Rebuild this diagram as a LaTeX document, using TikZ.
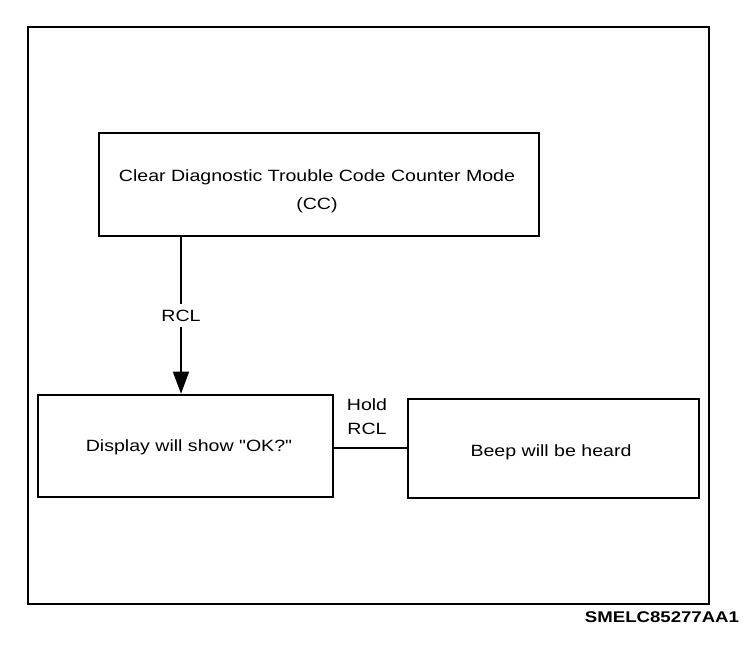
\documentclass[tikz,border=0pt]{standalone}
\usepackage{fontspec}
\setmainfont{Liberation Sans}
\newfontfamily\widefont[FakeStretch=1.2]{Liberation Sans}
\usetikzlibrary{arrows.meta}
\begin{document}
\begin{tikzpicture}[x=1pt,y=-1pt,
  boxstyle/.style={draw,line width=2.6pt,inner sep=0pt,font=\widefont\fontsize{16}{28}\selectfont,align=center},
  linkstyle/.style={line width=1.6pt},
  lbl/.style={font=\widefont\fontsize{16.3}{24}\selectfont,inner sep=1pt,align=center}]
\useasboundingbox (0,0) rectangle (752,656);
\node[draw,line width=2.4pt,minimum width=681pt,minimum height=577pt,inner sep=0pt] (frame) at (368.5,315.5) {};
\node[boxstyle,minimum width=440pt,minimum height=103pt] (top) at (319,184.5) {};
\node[lbl] (toptxt) at (317,191) {Clear Diagnostic Trouble Code Counter Mode\\[4pt](CC)};
\node[boxstyle,minimum width=295pt,minimum height=102pt] (left) at (185.5,446) {};
\node[lbl] (lefttxt) at (189,447) {Display will show "OK?"};
\node[boxstyle,minimum width=291pt,minimum height=99pt] (right) at (553.5,448.5) {};
\node[lbl] (righttxt) at (551,452) {Beep will be heard};
\coordinate (ax) at (181,0);
\coordinate (hl) at (0,448);
\draw[linkstyle,-{Triangle[width=16pt,length=22pt]}] (top.south -| ax) -- node[lbl,fill=white,inner sep=6pt] (rcl) {RCL} (left.north -| ax);
\draw[linkstyle] (left.east |- hl) -- (right.west |- hl);
\node[lbl] (hold) at (367,417) {Hold\\RCL};
\node[font=\widefont\bfseries\fontsize{15.5}{18}\selectfont,inner sep=0pt] (code) at (662,617) {SMELC85277AA1};
\end{tikzpicture}
\end{document}
